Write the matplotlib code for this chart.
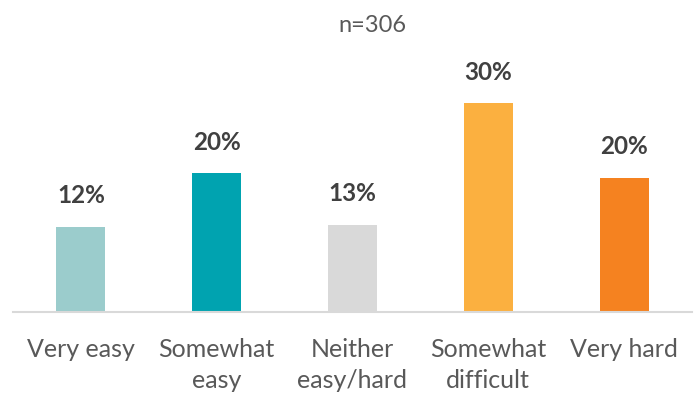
import matplotlib
matplotlib.use("Agg")
import matplotlib.pyplot as plt

categories = ["Very easy", "Somewhat\neasy", "Neither\neasy/hard", "Somewhat\ndifficult", "Very hard"]
values = [12.3, 20.0, 12.6, 30.1, 19.4]
labels = ["12%", "20%", "13%", "30%", "20%"]
colors = ["#9bcccc", "#00a3b0", "#d9d9d9", "#fbb040", "#f58220"]

plt.rcParams['font.family'] = ['Lato', 'DejaVu Sans']

fig = plt.figure(figsize=(6.97, 3.99), dpi=100)
ax = fig.add_axes([13 / 697, 1 - 312 / 399, (692 - 13) / 697, (312 - 69.5) / 399])

x = list(range(len(values)))
ax.bar(x, values, width=0.36, color=colors)
for xi, v, lab in zip(x, values, labels):
    ax.annotate(lab, (xi, v), xytext=(0, 14), textcoords="offset points",
                ha="center", va="bottom", fontsize=17.5, fontweight="bold", color="#404040")

ax.set_xlim(-0.5, 4.5)
ax.set_ylim(0, 35)
ax.set_xticks(x)
ax.set_xticklabels(categories, fontsize=18, color="#595959", linespacing=1.4)
ax.tick_params(axis="x", length=0, pad=19)
ax.set_yticks([])
for s in ["top", "right", "left"]:
    ax.spines[s].set_visible(False)
ax.spines["bottom"].set_color("#d9d9d9")
ax.spines["bottom"].set_linewidth(1.5)

fig.text(372 / 697, 1 - 25 / 399, "n=306", ha="center", va="center", fontsize=17, color="#595959")

fig.savefig("out.png", dpi=100)
